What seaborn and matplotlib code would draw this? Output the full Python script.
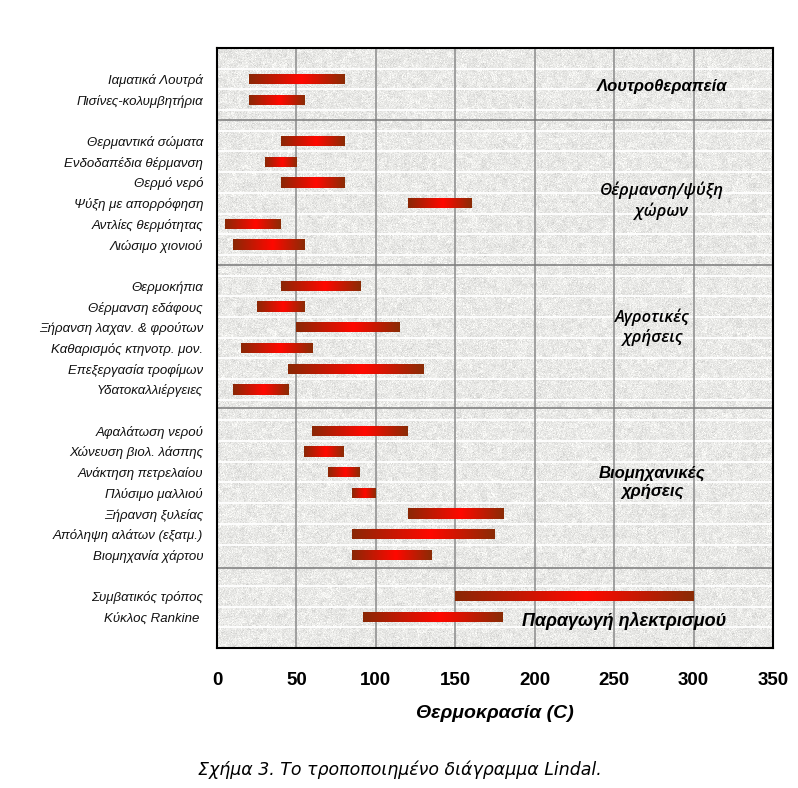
import numpy as np
import pandas as pd
import matplotlib
matplotlib.use("Agg")
import matplotlib.pyplot as plt
import seaborn as sns
from matplotlib.colors import LinearSegmentedColormap

# ---------------- data ----------------
groups = ["Λουτροθεραπεία", "Θέρμανση/ψύξη\nχώρων", "Αγροτικές\nχρήσεις",
          "Βιομηχανικές\nχρήσεις", "Παραγωγή ηλεκτρισμού"]
uses = ["Ιαματικά Λουτρά", "Πισίνες-κολυμβητήρια",
        "Θερμαντικά σώματα", "Ενδοδαπέδια θέρμανση", "Θερμό νερό",
        "Ψύξη με απορρόφηση", "Αντλίες θερμότητας", "Λιώσιμο χιονιού",
        "Θερμοκήπια", "Θέρμανση εδάφους", "Ξήρανση λαχαν. & φρούτων",
        "Καθαρισμός κτηνοτρ. μον.", "Επεξεργασία τροφίμων", "Υδατοκαλλιέργειες",
        "Αφαλάτωση νερού", "Χώνευση βιολ. λάσπης", "Ανάκτηση πετρελαίου",
        "Πλύσιμο μαλλιού", "Ξήρανση ξυλείας", "Απόληψη αλάτων (εξατμ.)",
        "Βιομηχανία χάρτου",
        "Συμβατικός τρόπος", "Κύκλος Rankine "]
use_group = [0, 0,
             1, 1, 1, 1, 1, 1,
             2, 2, 2, 2, 2, 2,
             3, 3, 3, 3, 3, 3, 3,
             4, 4]
t_start = [20, 20,
           40, 30, 40, 120, 5, 10,
           40, 25, 50, 15, 45, 10,
           60, 55, 70, 85, 120, 85, 85,
           150, 92]
t_end = [80, 55,
         80, 50, 80, 160, 40, 55,
         90, 55, 115, 60, 130, 45,
         120, 80, 90, 100, 180, 175, 135,
         300, 180]
x_ticks = [0, 50, 100, 150, 200, 250, 300, 350]
xlabel = "Θερμοκρασία (C)"
caption = "Σχήμα 3. Το τροποποιημένο διάγραμμα Lindal."

# ---------------- layout of category slots ----------------
slots = []
for gi in range(len(groups)):
    slots.append(f"_blank{gi}")
    slots += [u for u, ug in zip(uses, use_group) if ug == gi]
slots.append("_blank_end")

df = pd.DataFrame({"use": uses, "start": t_start, "end": t_end})
df["span"] = df["end"] - df["start"]
start_of = dict(zip(df["use"], df["start"]))

sns.set_style("white")
plt.rcParams["font.family"] = ["Liberation Sans", "DejaVu Sans"]
plt.rcParams["text.color"] = "black"
plt.rcParams["xtick.color"] = "black"
plt.rcParams["ytick.color"] = "black"

fig = plt.figure(figsize=(7.98, 7.88), dpi=100)
ax = fig.add_axes([217 / 798, 1 - 648 / 788, 556 / 798, 600 / 788])

# textured background
rng = np.random.default_rng(7)
H, W = 600, 556
n = rng.normal(0, 1, (H, W))
n2 = rng.normal(0, 1, (H // 5 + 1, W // 5 + 1))
n2 = np.kron(n2, np.ones((5, 5)))[:H, :W]
val = 0.915 + 0.035 * n + 0.012 * n2
val = np.clip(val, 0.7, 1.0)
tex = np.dstack([val, val, val * 0.99])
ax.imshow(tex, extent=(0, 1, 0, 1), transform=ax.transAxes, aspect="auto",
          interpolation="nearest", zorder=0)

sns.barplot(data=df, y="use", x="span", order=slots, orient="h", width=0.5,
            color="#cc2200", ax=ax, zorder=3, errorbar=None)

cmap = LinearSegmentedColormap.from_list(
    "bar", [(0.0, "#8a2806"), (0.55, "#ff0800"), (1.0, "#8a2c06")])
grad = np.linspace(0, 1, 256)[None, :]

for p in list(ax.patches):
    yc = p.get_y() + p.get_height() / 2
    name = slots[int(round(yc))]
    if name.startswith("_blank"):
        continue
    p.set_x(start_of[name])
    p.set_facecolor("none")
    p.set_edgecolor("none")
    x0, w = p.get_x(), p.get_width()
    y0, h = p.get_y(), p.get_height()
    im = ax.imshow(grad, cmap=cmap, extent=(x0, x0 + w, y0 + h, y0),
                   aspect="auto", zorder=3, interpolation="bilinear")
    im.set_clip_path(p)

# white row lines and grey group separators
for k in range(1, len(slots)):
    yb = k - 0.5
    if abs(yb - 24.5) < 0.01:
        continue
    ax.axhline(yb, color="white", lw=1.3, zorder=1)
for ys in [3, 10, 16.9, 24.63]:
    ax.axhline(ys, color="#7a7a7a", lw=1.1, zorder=2)
for v in x_ticks[1:-1]:
    ax.axvline(v, color="#8a8a8a", lw=1.1, zorder=1.5)

ax.set_xlim(0, 350)
ax.set_ylim(len(slots) - 0.5, -0.5)
ax.set_aspect("auto")
ax.set_xticks(x_ticks)
ax.set_xticklabels([str(t) for t in x_ticks], fontsize=13.5, fontweight="bold",
                   color="black")
ax.set_yticks(list(range(len(slots))))
ax.set_yticklabels(["" if s.startswith("_blank") else s for s in slots],
                   fontsize=9.5, style="italic", color="#111111")
ax.tick_params(axis="x", length=0, pad=17)
ax.tick_params(axis="y", length=0, pad=10)
ax.set_xlabel("")
ax.set_ylabel("")
for s in ax.spines.values():
    s.set_visible(True)
    s.set_color("black")
    s.set_linewidth(1.5)
    s.set_zorder(5)

# group labels
glabel_pos = [(280, 1.34), (280, 6.9), (274, 13.0), (274, 20.5), (256, 27.2)]
glabel_size = [12, 12, 12, 12, 13]
glabel_weight = ["bold", "semibold", "semibold", "bold", "bold"]
glabel_family = [["Liberation Sans"], ["Open Sans"], ["Open Sans"],
                 ["Liberation Sans"], ["Liberation Sans"]]
for g, (gx, gy), fs, fw, ff in zip(groups, glabel_pos, glabel_size,
                                   glabel_weight, glabel_family):
    ax.text(gx, gy, g, ha="center", va="center", fontsize=fs, color="black",
            fontweight=fw, style="italic", family=ff, linespacing=1.25,
            zorder=6)

fig.text(495 / 798, 1 - 713 / 788, xlabel, ha="center", va="center",
         fontsize=14, fontweight="bold", style="italic", color="black")
fig.text(400 / 798, 1 - 770 / 788, caption, ha="center", va="center",
         fontsize=12.5, style="italic", family=["DejaVu Sans"], color="black")

fig.savefig("out.png", dpi=100)
